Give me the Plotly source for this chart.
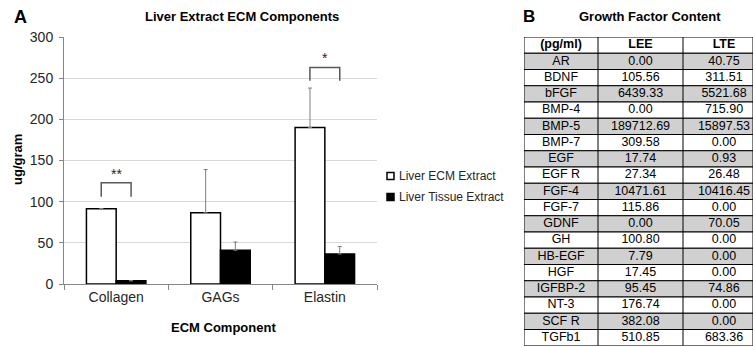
import plotly.graph_objects as go

# ---------------- data ----------------
categories = ["Collagen", "GAGs", "Elastin"]
ecm_values = [91.5, 86.5, 190.0]
ecm_err = [0.0, 52.5, 48.0]
tissue_values = [4.0, 41.0, 36.5]
tissue_err = [0.0, 10.0, 9.0]
series_names = ["Liver ECM Extract", "Liver Tissue Extract"]

# significance brackets: category index, bracket bottom, bracket top, label
sig_cats = [0, 2]
sig_low = [106, 247]
sig_high = [123, 263]
sig_labels = ["**", "*"]

table_header = ["(pg/ml)", "LEE", "LTE"]
factors = ["AR", "BDNF", "bFGF", "BMP-4", "BMP-5", "BMP-7", "EGF", "EGF R", "FGF-4",
           "FGF-7", "GDNF", "GH", "HB-EGF", "HGF", "IGFBP-2", "NT-3", "SCF R", "TGFb1"]
lee = ["0.00", "105.56", "6439.33", "0.00", "189712.69", "309.58", "17.74", "27.34",
       "10471.61", "115.86", "0.00", "100.80", "7.79", "17.45", "95.45", "176.74",
       "382.08", "510.85"]
lte = ["40.75", "311.51", "5521.68", "715.90", "15897.53", "0.00", "0.93", "26.48",
       "10416.45", "0.00", "70.05", "0.00", "0.00", "0.00", "74.86", "0.00", "0.00",
       "683.36"]

# ---------------- layout constants ----------------
W, H = 753, 347
FONT = "Liberation Sans, Arial, sans-serif"
px_x = lambda v: v / W
px_y = lambda v: 1 - v / H

fig = go.Figure()
fig.add_trace(go.Bar(
    x=categories, y=ecm_values, name=series_names[0],
    marker=dict(color="white", line=dict(color="black", width=1.5)),
    error_y=dict(type="data", array=ecm_err, arrayminus=[0] * len(ecm_err),
                 symmetric=False, color="#7f7f7f", thickness=1, width=2),
    showlegend=False, xaxis="x", yaxis="y",
))
fig.add_trace(go.Bar(
    x=categories, y=tissue_values, name=series_names[1],
    marker=dict(color="black", line=dict(color="black", width=1.5)),
    error_y=dict(type="data", array=tissue_err, arrayminus=[0] * len(tissue_err),
                 symmetric=False, color="#7f7f7f", thickness=1, width=2),
    showlegend=False, xaxis="x", yaxis="y",
))

# significance brackets (overlaid numeric x axis aligned with the categories)
half = 0.143
for c, lo, hi, lab in zip(sig_cats, sig_low, sig_high, sig_labels):
    fig.add_trace(go.Scatter(
        x=[c - half, c - half, c + half, c + half], y=[lo, hi, hi, lo],
        mode="lines", line=dict(color="#595959", width=1.5),
        showlegend=False, hoverinfo="skip", xaxis="x2", yaxis="y",
    ))
    fig.add_annotation(x=c, y=hi, xref="x2", yref="y", text=lab, showarrow=False,
                       yanchor="bottom", yshift=-1,
                       font=dict(family=FONT, size=14, color="#262626"))

# ---------------- growth factor table (own hidden axes) ----------------
n_rows = len(factors) + 1
col_edges = [0, 74, 159, 244]
col_centers = [37, 116.5, 200]
tab_w = 229
for r in range(n_rows):
    fill = "white" if r == 0 else ("#d0d0d0" if (r - 1) % 2 == 0 else "white")
    fig.add_shape(type="rect", xref="x3", yref="y3", x0=0, x1=tab_w, y0=r, y1=r + 1,
                  fillcolor=fill, line=dict(color="black", width=1), layer="below")
for xe in col_edges[1:3]:
    fig.add_shape(type="line", xref="x3", yref="y3", x0=xe, x1=xe, y0=0, y1=n_rows,
                  line=dict(color="black", width=1))

fig.add_trace(go.Scatter(
    x=col_centers, y=[0.5] * 3, text=table_header, mode="text",
    textfont=dict(family=FONT, size=12.5, color="black", weight="bold"),
    showlegend=False, hoverinfo="skip", xaxis="x3", yaxis="y3",
))
for col_vals, xc in zip([factors, lee, lte], col_centers):
    fig.add_trace(go.Scatter(
        x=[xc] * len(col_vals), y=[i + 1.5 for i in range(len(col_vals))],
        text=col_vals, mode="text",
        textfont=dict(family=FONT, size=12.5, color="black"),
        showlegend=False, hoverinfo="skip", xaxis="x3", yaxis="y3",
    ))

hidden = dict(visible=False, showgrid=False, zeroline=False, fixedrange=True)
fig.update_layout(
    width=W, height=H,
    margin=dict(l=0, r=0, t=0, b=0, pad=0, autoexpand=False),
    paper_bgcolor="white", plot_bgcolor="white",
    barmode="group", bargap=0.43, bargroupgap=0,
    font=dict(family=FONT, color="#262626"),
    xaxis=dict(domain=[px_x(64), px_x(377)], type="category", showline=True,
               linecolor="#868686", linewidth=1, ticks="outside",
               tickson="boundaries", ticklen=5, tickcolor="#868686",
               tickfont=dict(size=14, color="#262626"), automargin=False,
               showgrid=False, fixedrange=True, anchor="y"),
    xaxis2=dict(domain=[px_x(64), px_x(377)], range=[-0.5, 2.5], overlaying="x",
                anchor="y", automargin=False, **hidden),
    yaxis=dict(domain=[1 - 284 / H, 1 - 37 / H], range=[0, 300], dtick=50,
               showline=True, linecolor="#868686", linewidth=1,
               ticks="outside", ticklen=4, tickcolor="#868686",
               ticklabelstandoff=3, automargin=False,
               gridcolor="#d9d9d9", gridwidth=1, zeroline=False,
               tickfont=dict(size=14, color="#262626"), fixedrange=True,
               anchor="x"),
    xaxis3=dict(domain=[px_x(524), 1.0], range=[0, tab_w], anchor="y3",
                automargin=False, **hidden),
    yaxis3=dict(domain=[px_y(37 + 16.25 * n_rows), px_y(37)], range=[n_rows, 0],
                anchor="x3", automargin=False, **hidden),
)

# texts
ann = [
    ("A", 20, 17, 18),
    ("Liver Extract ECM Components", 242, 17, 13),
    ("ECM Component", 223, 327, 13),
    ("B", 529, 17, 17),
    ("Growth Factor Content", 650, 17, 13),
]
for t, x, y, s in ann:
    fig.add_annotation(x=px_x(x), y=px_y(y), xref="paper", yref="paper",
                       text="<b>%s</b>" % t, showarrow=False,
                       xanchor="center", yanchor="middle",
                       font=dict(family=FONT, size=s, color="black"))
fig.add_annotation(x=px_x(17), y=px_y(160), xref="paper", yref="paper",
                   text="<b>ug/gram</b>", showarrow=False, textangle=-90,
                   xanchor="center", yanchor="middle",
                   font=dict(family=FONT, size=13, color="black"))

# legend (manual, compact like the original)
leg_fill = ["white", "black"]
for i, (nm, fc) in enumerate(zip(series_names, leg_fill)):
    yc = 176 + 21 * i
    fig.add_shape(type="rect", xref="paper", yref="paper",
                  x0=px_x(387), x1=px_x(394), y0=px_y(yc - 3.5), y1=px_y(yc + 3.5),
                  fillcolor=fc, line=dict(color="black", width=1.5))
    fig.add_annotation(x=px_x(397), y=px_y(yc), xref="paper", yref="paper",
                       text=nm, showarrow=False, xanchor="left", yanchor="middle",
                       font=dict(family=FONT, size=12, color="#262626"))

post = (
    "var de=document.documentElement,b=document.body;"
    "de.style.margin='0';de.style.padding='0';de.style.overflow='hidden';"
    "b.style.margin='0';b.style.padding='0';b.style.overflow='hidden';"
)
fig.write_html("out.html", post_script=post, config={"displayModeBar": False})
